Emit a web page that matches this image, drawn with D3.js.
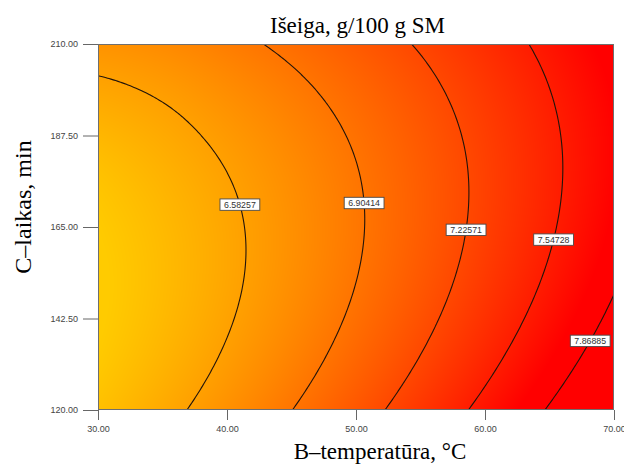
<!DOCTYPE html>
<html><head><meta charset="utf-8">
<script src="https://cdn.jsdelivr.net/npm/d3@7"></script>
<style>body{margin:0;background:#fff} svg{display:block}</style>
</head><body>
<svg id="chart" width="624" height="464"></svg>
<script>
// ---------- data ----------
const chartTitle = "Išeiga, g/100 g SM";
const xLabel = "B–temperatūra, °C";
const yLabel = "C–laikas, min";
const tempValues = [30, 35, 40, 45, 50, 55, 60, 65, 70];          // B, °C
const timeValues = [120, 135, 150, 165, 180, 195, 210];            // C, min
// yield, one array per time value (columns = tempValues)
const yield120 = [6.349, 6.515, 6.699, 6.901, 7.121, 7.359, 7.615, 7.889, 8.181];
const yield135 = [6.274, 6.426, 6.596, 6.784, 6.990, 7.214, 7.456, 7.716, 7.994];
const yield150 = [6.249, 6.387, 6.543, 6.717, 6.909, 7.119, 7.347, 7.593, 7.857];
const yield165 = [6.275, 6.399, 6.541, 6.701, 6.879, 7.075, 7.289, 7.521, 7.771];
const yield180 = [6.352, 6.462, 6.590, 6.736, 6.900, 7.082, 7.282, 7.500, 7.736];
const yield195 = [6.500, 6.576, 6.690, 6.822, 6.972, 7.140, 7.326, 7.530, 7.752];
const yield210 = [6.680, 6.740, 6.840, 6.958, 7.094, 7.248, 7.420, 7.610, 7.818];
const contourLevels = [6.58257, 6.90414, 7.22571, 7.54728, 7.86885];
const labelTimes = [170.5, 170.9, 164.3, 161.9, 137];
const xTicks = [30, 40, 50, 60, 70];
const yTicks = [120, 142.5, 165, 187.5, 210];

const grid = [yield120, yield135, yield150, yield165, yield180, yield195, yield210];

// ---------- layout ----------
const svg = d3.select("#chart");
const L = 98, R = 614, T = 44, B = 410;
const x = d3.scaleLinear().domain([30, 70]).range([L, R]);
const y = d3.scaleLinear().domain([120, 210]).range([B, T]);
const color = d3.scaleLinear().domain([6.27, 7.75]).range(["#ffcb00", "#ff0000"]).clamp(true);

// ---------- smooth surface through the grid (Catmull-Rom) ----------
function cr(p0, p1, p2, p3, t) {
  return p1 + 0.5 * t * (p2 - p0 + t * (2 * p0 - 5 * p1 + 4 * p2 - p3 + t * (3 * (p1 - p2) + p3 - p0)));
}
function interp1(get, n, u) {
  const i = Math.min(Math.max(Math.floor(u), 0), n - 2);
  const t = u - i;
  const g = k => {
    if (k < 0) return 3 * get(0) - 3 * get(1) + get(2);
    if (k >= n) return 3 * get(n - 1) - 3 * get(n - 2) + get(n - 3);
    return get(k);
  };
  return cr(g(i - 1), g(i), g(i + 1), g(i + 2), t);
}
function surface(tb, tc) {
  const u = (tb - tempValues[0]) / (tempValues[1] - tempValues[0]);
  const v = (tc - timeValues[0]) / (timeValues[1] - timeValues[0]);
  return interp1(j => interp1(i => grid[j][i], tempValues.length, u), grid.length, v);
}

// ---------- fill ----------
const W = R - L, H = B - T;
const canvas = document.createElement("canvas");
canvas.width = W; canvas.height = H;
const ctx = canvas.getContext("2d");
const img = ctx.createImageData(W, H);
for (let py = 0; py < H; py++) {
  const tc = y.invert(T + py + 0.5);
  for (let px = 0; px < W; px++) {
    const tb = x.invert(L + px + 0.5);
    const c = d3.rgb(color(surface(tb, tc)));
    const k = (py * W + px) * 4;
    img.data[k] = c.r; img.data[k + 1] = c.g; img.data[k + 2] = c.b; img.data[k + 3] = 255;
  }
}
ctx.putImageData(img, 0, 0);

svg.append("defs").append("clipPath").attr("id", "plotclip")
  .append("rect").attr("x", L).attr("y", T).attr("width", W).attr("height", H);

svg.append("image").attr("x", L).attr("y", T).attr("width", W).attr("height", H)
  .attr("preserveAspectRatio", "none").attr("href", canvas.toDataURL());

// ---------- contour lines ----------
const stepB = 0.25, stepC = 0.5;
const nB = Math.round(40 / stepB) + 1, nC = Math.round(90 / stepC) + 1;
const values = new Array(nB * nC);
for (let j = 0; j < nC; j++)
  for (let i = 0; i < nB; i++)
    values[j * nB + i] = surface(30 + i * stepB, 120 + j * stepC);
const contours = d3.contours().size([nB, nC]).thresholds(contourLevels)(values);
const proj = d3.geoTransform({
  point(cx, cy) { this.stream.point(x(30 + (cx - 0.5) * stepB), y(120 + (cy - 0.5) * stepC)); }
});
const path = d3.geoPath(proj);
svg.append("g").attr("clip-path", "url(#plotclip)")
  .selectAll("path").data(contours).join("path")
  .attr("d", path).attr("fill", "none").attr("stroke", "#22140a").attr("stroke-width", 1.1);

// ---------- frame ----------
svg.append("rect").attr("x", L + 0.5).attr("y", T + 0.5).attr("width", W - 1).attr("height", H - 1)
  .attr("fill", "none").attr("stroke", "#6f6f6f").attr("stroke-width", 1);

// ---------- contour labels ----------
const labG = svg.append("g");
contourLevels.forEach((lev, k) => {
  const tc = labelTimes[k];
  let lo = 30, hi = 70;
  for (let it = 0; it < 50; it++) {
    const mid = (lo + hi) / 2;
    if (surface(mid, tc) < lev) lo = mid; else hi = mid;
  }
  const cx = x((lo + hi) / 2), cy = y(tc);
  const g = labG.append("g").attr("transform", `translate(${cx},${cy})`);
  const rect = g.append("rect");
  const t = g.append("text").text(lev.toFixed(5)).attr("text-anchor", "middle").attr("dy", "0.35em")
    .attr("font-family", "Arial, 'Liberation Sans', sans-serif").attr("font-size", 8.8).attr("fill", "#333");
  const w = t.node().getComputedTextLength() + 8;
  rect.attr("x", -w / 2).attr("y", -5.7).attr("width", w).attr("height", 11.4)
    .attr("fill", "#fff").attr("stroke", "#4a4a4a").attr("stroke-width", 0.9);
});

// ---------- axes ----------
const fmt = d3.format(".2f");
const xg = svg.append("g").attr("transform", `translate(0,${B})`)
  .call(d3.axisBottom(x).tickValues(xTicks).tickFormat(fmt).tickSize(10).tickSizeOuter(0).tickPadding(6));
const yg = svg.append("g").attr("transform", `translate(${L},0)`)
  .call(d3.axisLeft(y).tickValues(yTicks).tickFormat(fmt).tickSize(15).tickSizeOuter(0).tickPadding(5));
[xg, yg].forEach(g => {
  g.select(".domain").remove();
  g.selectAll(".tick line").attr("stroke", "#666");
  g.selectAll(".tick text").attr("fill", "#444").attr("font-size", 9)
    .attr("font-family", "Arial, 'Liberation Sans', sans-serif");
});

// ---------- titles ----------
const serif = "'Liberation Serif', 'Times New Roman', serif";
svg.append("text").attr("x", 357.5).attr("y", 33).attr("text-anchor", "middle")
  .attr("font-family", serif).attr("font-size", 23).attr("fill", "#000").text(chartTitle);
svg.append("text").attr("x", 380).attr("y", 459).attr("text-anchor", "middle")
  .attr("font-family", serif).attr("font-size", 23).attr("fill", "#000").text(xLabel);
svg.append("text").attr("transform", "translate(31,207) rotate(-90)").attr("text-anchor", "middle")
  .attr("font-family", serif).attr("font-size", 24).attr("fill", "#000").text(yLabel);
</script>
</body></html>
